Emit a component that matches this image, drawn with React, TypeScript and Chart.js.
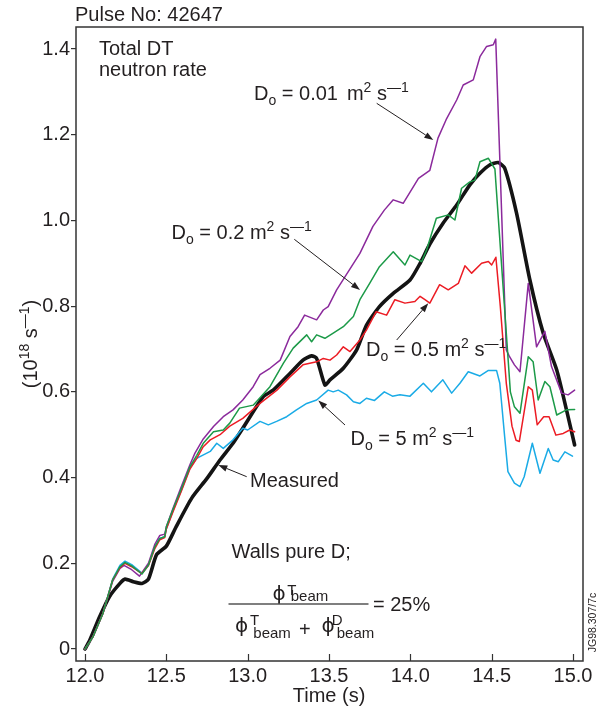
import React, { useEffect, useRef } from "react";
import { Chart, registerables } from "chart.js";

Chart.register(...registerables);

const FONT = '"Liberation Sans", Arial, Helvetica, sans-serif';
const TEXT = "#231f20";

const xTicks = [12.0, 12.5, 13.0, 13.5, 14.0, 14.5, 15.0];
const xTickLabels = ["12.0", "12.5", "13.0", "13.5", "14.0", "14.5", "15.0"];
const yTicks = [0, 0.2, 0.4, 0.6, 0.8, 1.0, 1.2, 1.4];
const yTickLabels = ["0", "0.2", "0.4", "0.6", "0.8", "1.0", "1.2", "1.4"];

// Measured (black)
const tMeasured = [12.0, 12.03, 12.09, 12.15, 12.215, 12.246, 12.297, 12.35, 12.39, 12.44, 12.5, 12.56, 12.656, 12.75, 12.83, 12.91, 12.97, 13.096, 13.157, 13.26, 13.34, 13.393, 13.424, 13.475, 13.506, 13.588, 13.67, 13.73, 13.81, 13.895, 13.998, 14.06, 14.12, 14.2, 14.285, 14.366, 14.428, 14.49, 14.54, 14.58, 14.653, 14.735, 14.817, 14.9, 14.96, 15.01];
const vMeasured = [0, 0.021, 0.075, 0.122, 0.153, 0.163, 0.157, 0.153, 0.163, 0.22, 0.24, 0.285, 0.352, 0.398, 0.441, 0.48, 0.515, 0.589, 0.604, 0.643, 0.674, 0.684, 0.678, 0.616, 0.628, 0.655, 0.698, 0.755, 0.799, 0.83, 0.861, 0.9, 0.945, 0.993, 1.036, 1.083, 1.11, 1.13, 1.135, 1.122, 1.017, 0.861, 0.737, 0.651, 0.558, 0.476];

// D0 = 0.01 (purple)
const tD001 = [12.0, 12.05, 12.11, 12.17, 12.215, 12.24, 12.287, 12.335, 12.39, 12.43, 12.46, 12.49, 12.5, 12.543, 12.584, 12.645, 12.676, 12.727, 12.79, 12.85, 12.91, 12.97, 13.034, 13.076, 13.137, 13.2, 13.26, 13.31, 13.35, 13.424, 13.465, 13.495, 13.547, 13.69, 13.77, 13.84, 13.895, 13.956, 14.05, 14.12, 14.17, 14.22, 14.285, 14.325, 14.387, 14.428, 14.469, 14.51, 14.525, 14.59, 14.61, 14.64, 14.674, 14.725, 14.776, 14.827, 14.868, 14.93, 14.97, 15.01];
const vD001 = [0, 0.029, 0.083, 0.158, 0.188, 0.195, 0.185, 0.17, 0.2, 0.245, 0.265, 0.268, 0.285, 0.33, 0.371, 0.43, 0.457, 0.49, 0.519, 0.542, 0.558, 0.581, 0.612, 0.64, 0.655, 0.674, 0.729, 0.752, 0.779, 0.768, 0.791, 0.799, 0.838, 0.923, 0.986, 1.024, 1.048, 1.04, 1.098, 1.117, 1.192, 1.235, 1.281, 1.316, 1.328, 1.382, 1.406, 1.41, 1.423, 0.698, 0.682, 0.663, 0.647, 0.853, 0.705, 0.741, 0.659, 0.597, 0.593, 0.604];

// D0 = 0.2 (green)
const tD02 = [12.0, 12.05, 12.11, 12.17, 12.215, 12.246, 12.287, 12.35, 12.39, 12.43, 12.46, 12.49, 12.5, 12.543, 12.594, 12.645, 12.687, 12.727, 12.79, 12.85, 12.89, 12.95, 13.034, 13.137, 13.22, 13.28, 13.363, 13.393, 13.424, 13.475, 13.526, 13.588, 13.65, 13.69, 13.75, 13.81, 13.895, 13.967, 13.998, 14.07, 14.1, 14.16, 14.233, 14.274, 14.315, 14.366, 14.397, 14.428, 14.48, 14.52, 14.615, 14.64, 14.674, 14.725, 14.755, 14.786, 14.827, 14.858, 14.9, 14.96, 15.01];
const vD02 = [0, 0.029, 0.083, 0.161, 0.192, 0.202, 0.194, 0.175, 0.196, 0.239, 0.258, 0.262, 0.285, 0.328, 0.375, 0.425, 0.452, 0.48, 0.507, 0.511, 0.527, 0.562, 0.569, 0.612, 0.667, 0.702, 0.733, 0.717, 0.733, 0.725, 0.737, 0.752, 0.776, 0.815, 0.853, 0.892, 0.927, 0.896, 0.919, 0.904, 0.931, 1.005, 1.013, 1.001, 1.075, 1.09, 1.094, 1.137, 1.145, 1.12, 0.6, 0.565, 0.55, 0.682, 0.67, 0.581, 0.624, 0.612, 0.546, 0.558, 0.559];

// D0 = 0.5 (red)
const tD05 = [12.0, 12.05, 12.11, 12.17, 12.215, 12.246, 12.287, 12.35, 12.39, 12.43, 12.46, 12.49, 12.5, 12.543, 12.594, 12.645, 12.687, 12.727, 12.77, 12.83, 12.89, 12.97, 13.076, 13.18, 13.26, 13.34, 13.424, 13.465, 13.506, 13.547, 13.588, 13.629, 13.69, 13.73, 13.79, 13.854, 13.905, 13.967, 14.028, 14.06, 14.09, 14.12, 14.18, 14.233, 14.295, 14.336, 14.377, 14.438, 14.48, 14.5, 14.526, 14.553, 14.59, 14.625, 14.65, 14.67, 14.725, 14.75, 14.78, 14.82, 14.853, 14.895, 14.94, 14.98, 15.01];
const vD05 = [0, 0.029, 0.083, 0.161, 0.19, 0.2, 0.192, 0.176, 0.195, 0.235, 0.255, 0.26, 0.28, 0.322, 0.37, 0.42, 0.445, 0.472, 0.488, 0.5, 0.52, 0.538, 0.573, 0.604, 0.635, 0.663, 0.67, 0.678, 0.674, 0.686, 0.705, 0.694, 0.721, 0.744, 0.787, 0.779, 0.815, 0.807, 0.811, 0.823, 0.815, 0.807, 0.85, 0.838, 0.853, 0.894, 0.877, 0.9, 0.904, 0.896, 0.914, 0.8, 0.62, 0.52, 0.487, 0.484, 0.612, 0.604, 0.523, 0.542, 0.542, 0.499, 0.503, 0.511, 0.507];

// D0 = 5 (cyan)
const tD5 = [12.0, 12.05, 12.11, 12.17, 12.215, 12.246, 12.287, 12.35, 12.39, 12.43, 12.46, 12.49, 12.5, 12.543, 12.594, 12.645, 12.687, 12.707, 12.77, 12.81, 12.85, 12.91, 12.97, 13.0, 13.076, 13.127, 13.178, 13.24, 13.3, 13.363, 13.424, 13.495, 13.526, 13.557, 13.608, 13.65, 13.69, 13.73, 13.78, 13.84, 13.89, 13.936, 13.998, 14.08, 14.13, 14.2, 14.254, 14.305, 14.356, 14.428, 14.48, 14.53, 14.55, 14.58, 14.6, 14.64, 14.674, 14.7, 14.75, 14.797, 14.848, 14.878, 14.91, 14.95, 14.997];
const vD5 = [0, 0.029, 0.083, 0.163, 0.195, 0.205, 0.197, 0.177, 0.196, 0.238, 0.258, 0.262, 0.28, 0.325, 0.372, 0.422, 0.445, 0.449, 0.461, 0.48, 0.468, 0.488, 0.515, 0.511, 0.531, 0.523, 0.531, 0.542, 0.558, 0.573, 0.581, 0.604, 0.6, 0.604, 0.593, 0.577, 0.573, 0.585, 0.58, 0.6, 0.59, 0.593, 0.59, 0.62, 0.6, 0.628, 0.597, 0.62, 0.647, 0.637, 0.65, 0.65, 0.62, 0.495, 0.414, 0.387, 0.379, 0.402, 0.48, 0.41, 0.468, 0.441, 0.437, 0.46, 0.45];

type Part = { t: string; size?: number; dy?: number; dx?: number; noAdvance?: boolean };

function richWidth(ctx: CanvasRenderingContext2D, parts: Part[], base = 20) {
  let w = 0;
  for (const p of parts) {
    ctx.font = `${p.size ?? base}px ${FONT}`;
    if (!p.noAdvance) w += ctx.measureText(p.t).width + (p.dx || 0);
  }
  return w;
}

function rich(ctx: CanvasRenderingContext2D, x: number, y: number, parts: Part[], base = 20) {
  let cx = x;
  for (const p of parts) {
    ctx.font = `${p.size ?? base}px ${FONT}`;
    ctx.fillText(p.t, cx + (p.dx || 0), y + (p.dy || 0));
    if (!p.noAdvance) cx += ctx.measureText(p.t).width + (p.dx || 0);
  }
  return cx;
}

function txt(ctx: CanvasRenderingContext2D, s: string, x: number, y: number, size: number, family = FONT) {
  ctx.font = `${size}px ${family}`;
  ctx.fillText(s, x, y);
}

function arrow(ctx: CanvasRenderingContext2D, x1: number, y1: number, x2: number, y2: number) {
  const ang = Math.atan2(y2 - y1, x2 - x1);
  const L = 9, W = 3.2;
  const bx = x2 - L * Math.cos(ang), by = y2 - L * Math.sin(ang);
  ctx.beginPath();
  ctx.moveTo(x1, y1);
  ctx.lineTo(bx, by);
  ctx.strokeStyle = TEXT;
  ctx.lineWidth = 1;
  ctx.stroke();
  ctx.beginPath();
  ctx.moveTo(x2, y2);
  ctx.lineTo(bx + W * Math.sin(ang), by - W * Math.cos(ang));
  ctx.lineTo(bx - W * Math.sin(ang), by + W * Math.cos(ang));
  ctx.closePath();
  ctx.fillStyle = TEXT;
  ctx.fill();
}

function dLabel(value: string): Part[] {
  return [
    { t: "D" },
    { t: "o", size: 14, dy: 5 },
    { t: " = " + value + " m" },
    { t: "2", size: 14, dy: -8 },
    { t: " s" },
    { t: "—1", size: 14, dy: -8 },
  ];
}

const PHI_FONT = '"DejaVu Sans", "Liberation Sans", sans-serif';

const overlay = {
  id: "overlay",
  afterDraw(chart: any) {
    const ctx: CanvasRenderingContext2D = chart.ctx;
    const { left, right, top, bottom } = chart.chartArea;
    const xs = chart.scales.x;
    ctx.save();
    // frame
    ctx.strokeStyle = "#333";
    ctx.lineWidth = 1.5;
    ctx.strokeRect(left, top, right - left, bottom - top);
    // x ticks pointing inward
    ctx.beginPath();
    for (const v of xTicks) {
      const px = Math.round(xs.getPixelForValue(v)) + 0.5;
      ctx.moveTo(px, bottom);
      ctx.lineTo(px, bottom - 7);
    }
    ctx.lineWidth = 1.2;
    ctx.stroke();

    ctx.fillStyle = TEXT;
    ctx.textBaseline = "alphabetic";
    ctx.textAlign = "left";
    ctx.font = `20px ${FONT}`;
    ctx.fillText("Pulse No: 42647", 75, 20.5);
    ctx.fillText("Total DT", 99, 55);
    ctx.fillText("neutron rate", 99, 76);

    rich(ctx, 254, 99.5, [
      { t: "D" },
      { t: "o", size: 14, dy: 5 },
      { t: " = 0.01" },
      { t: "m", dx: 9 },
      { t: "2", size: 14, dy: -8 },
      { t: " s" },
      { t: "—1", size: 14, dy: -8 },
    ]);
    rich(ctx, 171.5, 238.5, dLabel("0.2"));
    rich(ctx, 366, 356, dLabel("0.5"));
    rich(ctx, 350.5, 445, dLabel("5"));
    ctx.font = `20px ${FONT}`;
    ctx.fillStyle = TEXT;
    ctx.fillText("Measured", 250, 487);
    ctx.fillText("Walls pure D;", 231.5, 558);

    // fraction: numerator
    txt(ctx, "ϕ", 272.5, 600, 20, PHI_FONT);
    txt(ctx, "T", 287.3, 595, 15);
    txt(ctx, "beam", 290.7, 600.5, 15);
    ctx.beginPath();
    ctx.moveTo(228.5, 604);
    ctx.lineTo(368.5, 604);
    ctx.strokeStyle = "#555";
    ctx.lineWidth = 1.5;
    ctx.stroke();
    ctx.fillStyle = TEXT;
    txt(ctx, "= 25%", 373, 610.5, 20);
    // denominator
    txt(ctx, "ϕ", 235, 632, 20, PHI_FONT);
    txt(ctx, "T", 250, 625, 15);
    txt(ctx, "beam", 253.3, 638, 15);
    txt(ctx, "+", 299, 636, 20);
    txt(ctx, "ϕ", 321.5, 632, 20, PHI_FONT);
    txt(ctx, "D", 331.7, 625, 15);
    txt(ctx, "beam", 336.7, 638, 15);

    // arrows
    arrow(ctx, 376.7, 103.3, 433.3, 140);
    arrow(ctx, 294.3, 239.3, 360, 290);
    arrow(ctx, 396.7, 340, 428.3, 303.3);
    arrow(ctx, 345, 425, 318.3, 400.5);
    arrow(ctx, 246.7, 476.7, 218.3, 465);

    // x axis title
    ctx.fillStyle = TEXT;
    ctx.font = `20px ${FONT}`;
    ctx.textAlign = "center";
    ctx.fillText("Time (s)", 329, 702);

    // y axis title (rotated)
    const yParts: Part[] = [
      { t: "(10" },
      { t: "18", size: 14, dy: -8 },
      { t: " s" },
      { t: "—1", size: 14, dy: -8 },
      { t: ")" },
    ];
    ctx.textAlign = "left";
    const w = richWidth(ctx, yParts);
    ctx.save();
    ctx.translate(37, 344);
    ctx.rotate(-Math.PI / 2);
    rich(ctx, -w / 2, 0, yParts);
    ctx.restore();

    // figure code
    ctx.save();
    ctx.translate(596, 622.5);
    ctx.rotate(-Math.PI / 2);
    ctx.font = `10.5px ${FONT}`;
    ctx.textAlign = "center";
    ctx.fillStyle = TEXT;
    ctx.fillText("JG98.307/7c", 0, 0);
    ctx.restore();

    ctx.restore();
  },
};

function pts(t: number[], v: number[]) {
  return t.map((x, i) => ({ x, y: v[i] }));
}

export default function App() {
  const ref = useRef<HTMLCanvasElement | null>(null);
  useEffect(() => {
    document.body.style.margin = "0";
    const canvas = ref.current!;
    const lineDs = (label: string, t: number[], v: number[], color: string, width: number, tension = 0) => ({
      label,
      data: pts(t, v),
      borderColor: color,
      backgroundColor: color,
      borderWidth: width,
      pointRadius: 0,
      tension,
      fill: false,
      borderJoinStyle: "round" as const,
      borderCapStyle: "round" as const,
    });
    const chart = new Chart(canvas, {
      type: "line",
      data: {
        datasets: [
          lineDs("D0 = 0.2", tD02, vD02, "#1c9a48", 1.5),
          lineDs("D0 = 0.5", tD05, vD05, "#ec1c24", 1.5),
          lineDs("D0 = 0.01", tD001, vD001, "#8b2a9c", 1.5),
          lineDs("D0 = 5", tD5, vD5, "#1aabe6", 1.5),
          lineDs("Measured", tMeasured, vMeasured, "#141414", 3.6, 0.2),
        ],
      },
      options: {
        responsive: false,
        animation: false,
        devicePixelRatio: 1,
        layout: { padding: { left: 0, right: 20, top: 27, bottom: 0 } },
        plugins: { legend: { display: false }, tooltip: { enabled: false } },
        scales: {
          x: {
            type: "linear",
            min: 11.9447,
            max: 15.0615,
            afterBuildTicks: (s: any) => {
              s.ticks = xTicks.map((v) => ({ value: v }));
            },
            afterFit: (s: any) => {
              s.height = 52;
            },
            grid: { display: true, drawOnChartArea: false, drawTicks: false },
            border: { display: false },
            ticks: {
              autoSkip: false,
              maxRotation: 0,
              padding: 3,
              color: TEXT,
              font: { family: FONT, size: 20 },
              callback: (_v: any, i: number) => xTickLabels[i],
            },
          },
          y: {
            type: "linear",
            min: -0.028,
            max: 1.4513,
            afterBuildTicks: (s: any) => {
              s.ticks = yTicks.map((v) => ({ value: v }));
            },
            afterFit: (s: any) => {
              s.width = 76;
            },
            grid: { display: true, drawOnChartArea: false, drawTicks: true, tickLength: 5, color: "#333", lineWidth: 1.2 },
            border: { display: false },
            ticks: {
              autoSkip: false,
              padding: 1,
              color: TEXT,
              font: { family: FONT, size: 20 },
              callback: (_v: any, i: number) => yTickLabels[i],
            },
          },
        },
      },
      plugins: [overlay],
    });
    return () => chart.destroy();
  }, []);
  return (
    <div style={{ position: "absolute", left: 0, top: 0, width: 603, height: 713, background: "#fff" }}>
      <canvas ref={ref} width={603} height={713} style={{ width: 603, height: 713, display: "block" }} />
    </div>
  );
}
